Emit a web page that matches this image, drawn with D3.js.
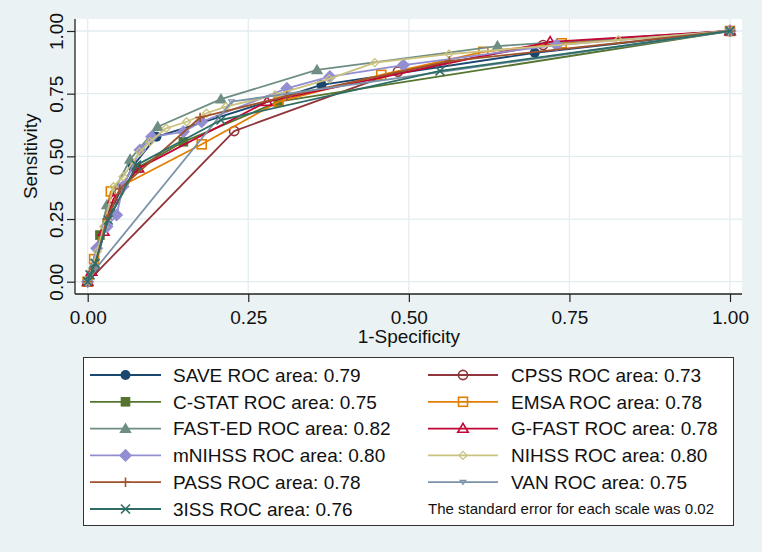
<!DOCTYPE html>
<html>
<head>
<meta charset="utf-8">
<script src="https://cdn.jsdelivr.net/npm/d3@7"></script>
<style>
  html, body { margin: 0; padding: 0; background: #eaf2f3; }
  svg { display: block; font-family: "Liberation Sans", Arial, Helvetica, sans-serif; }
</style>
</head>
<body>
<svg id="chart" width="762" height="552"></svg>
<script>
// ---- data: ROC points [1-Specificity, Sensitivity] ----
const SAVE   = [[0,0],[0.01,0.05],[0.035,0.28],[0.07,0.46],[0.107,0.578],[0.364,0.785],[0.696,0.913],[1,1]];
const CPSS   = [[0,0],[0.228,0.601],[0.483,0.838],[0.709,0.944],[1,1]];
const CSTAT  = [[0,0],[0.019,0.186],[0.076,0.452],[0.149,0.558],[0.297,0.718],[1,1]];
const EMSA   = [[0,0],[0.01,0.09],[0.036,0.36],[0.1775,0.548],[0.297,0.718],[0.457,0.825],[0.616,0.917],[0.738,0.951],[1,1]];
const FASTED = [[0,0],[0.01,0.07],[0.03,0.306],[0.066,0.488],[0.109,0.618],[0.2075,0.728],[0.357,0.845],[0.638,0.94],[1,1]];
const GFAST  = [[0,0],[0.006,0.04],[0.025,0.2],[0.04,0.33],[0.079,0.452],[0.279,0.718],[0.72,0.957],[1,1]];
const MNIHSS = [[0,0],[0.014,0.133],[0.03,0.22],[0.045,0.266],[0.055,0.38],[0.0814,0.525],[0.0996,0.578],[0.149,0.598],[0.1775,0.638],[0.31,0.771],[0.377,0.818],[0.4915,0.864],[0.73,0.944],[1,1]];
const NIHSS  = [[0,0],[0.005,0.04],[0.015,0.12],[0.025,0.22],[0.04,0.379],[0.055,0.419],[0.081,0.518],[0.097,0.558],[0.122,0.612],[0.154,0.638],[0.185,0.672],[0.215,0.698],[0.2916,0.745],[0.376,0.809],[0.447,0.874],[0.5625,0.908],[0.826,0.964],[1,1]];
const PASS   = [[0,0],[0.01,0.05],[0.03,0.25],[0.05,0.37],[0.175,0.655],[0.31,0.74],[0.563,0.88],[1,1]];
const VAN    = [[0,0],[0.012,0.05],[0.224,0.718],[1,1]];
const ISS3   = [[0,0],[0.0036,0.027],[0.0114,0.073],[0.032,0.246],[0.076,0.465],[0.2075,0.645],[0.5485,0.8405],[1,1]];

const seriesNames = ["SAVE","CPSS","C-STAT","EMSA","FAST-ED","G-FAST","mNIHSS","NIHSS","PASS","VAN","3ISS"];
const seriesData  = [SAVE, CPSS, CSTAT, EMSA, FASTED, GFAST, MNIHSS, NIHSS, PASS, VAN, ISS3];
const rocAreas    = ["0.79","0.73","0.75","0.78","0.82","0.78","0.80","0.80","0.78","0.75","0.76"];
const seriesColors = ["#1a476f","#90353b","#55752f","#e37e00","#6e8e84","#c10534","#938dd2","#cac27e","#a0522d","#7b92a8","#2d6d66"];
const seriesMarkers = ["O","Oh","S","Sh","T","Th","D","Dh","plus","v","X"];
const tickValues = [0, 0.25, 0.5, 0.75, 1];
const xTitle = "1-Specificity";
const yTitle = "Sensitivity";
const note = "The standard error for each scale was 0.02";

// ---- layout ----
const svg = d3.select("#chart");
const W = 762, H = 552;
const plot = {left: 75, right: 742, top: 19, bottom: 294};
const x = d3.scaleLinear().domain([0, 1]).range([87.7, 730]);
const y = d3.scaleLinear().domain([0, 1]).range([281.7, 31]);

svg.append("rect").attr("width", W).attr("height", H).attr("fill", "#eaf2f3");
svg.append("rect").attr("x", plot.left).attr("y", plot.top)
  .attr("width", plot.right - plot.left).attr("height", plot.bottom - plot.top)
  .attr("fill", "#ffffff");

// grid
const grid = svg.append("g");
grid.selectAll("line.gx").data(tickValues).join("line")
  .attr("x1", d => x(d)).attr("x2", d => x(d))
  .attr("y1", plot.top).attr("y2", plot.bottom)
  .attr("stroke", "#e3edf0").attr("stroke-width", 1.3);
grid.selectAll("line.gy").data(tickValues).join("line")
  .attr("y1", d => y(d)).attr("y2", d => y(d))
  .attr("x1", plot.left).attr("x2", plot.right)
  .attr("stroke", "#e3edf0").attr("stroke-width", 1.3);

// axes
const fmt = d3.format(".2f");
const xAxis = svg.append("g").attr("transform", `translate(0,${plot.bottom})`)
  .call(d3.axisBottom(x).tickValues(tickValues).tickFormat(fmt).tickSize(8).tickSizeOuter(0));
xAxis.select(".domain").remove();
xAxis.selectAll(".tick line").attr("stroke", "#222").attr("stroke-width", 1.2);
xAxis.selectAll(".tick text").attr("y", 30).attr("dy", 0)
  .attr("font-size", 19).attr("fill", "#111").attr("font-family", "Liberation Sans, Arial, sans-serif");

const yAxis = svg.append("g").attr("transform", `translate(${plot.left},0)`)
  .call(d3.axisLeft(y).tickValues(tickValues).tickFormat(fmt).tickSize(8).tickSizeOuter(0));
yAxis.select(".domain").remove();
yAxis.selectAll(".tick line").attr("stroke", "#222").attr("stroke-width", 1.2);
yAxis.selectAll(".tick text")
  .attr("transform", "rotate(-90)")
  .attr("x", 0).attr("y", -12).attr("dy", 0)
  .attr("text-anchor", "middle")
  .attr("font-size", 19).attr("fill", "#111").attr("font-family", "Liberation Sans, Arial, sans-serif");

svg.append("line").attr("x1", plot.left).attr("x2", plot.left)
  .attr("y1", plot.top).attr("y2", plot.bottom).attr("stroke", "#222").attr("stroke-width", 1.3);
svg.append("line").attr("x1", plot.left).attr("x2", plot.right)
  .attr("y1", plot.bottom).attr("y2", plot.bottom).attr("stroke", "#222").attr("stroke-width", 1.3);

svg.append("text").attr("x", x(0.5)).attr("y", 343).attr("text-anchor", "middle")
  .attr("font-size", 19).attr("fill", "#111").text(xTitle);
svg.append("text").attr("transform", `translate(37,${y(0.5)}) rotate(-90)`)
  .attr("text-anchor", "middle").attr("font-size", 19).attr("fill", "#111").text(yTitle);

// marker drawing
function drawMarker(g, type, color, cx, cy) {
  const sw = 1.6;
  switch (type) {
    case "O":
      g.append("circle").attr("cx", cx).attr("cy", cy).attr("r", 5).attr("fill", color); break;
    case "Oh":
      g.append("circle").attr("cx", cx).attr("cy", cy).attr("r", 4.6).attr("fill", "none")
        .attr("stroke", color).attr("stroke-width", sw); break;
    case "S":
      g.append("rect").attr("x", cx - 4.8).attr("y", cy - 4.8).attr("width", 9.6).attr("height", 9.6).attr("fill", color); break;
    case "Sh":
      g.append("rect").attr("x", cx - 4.5).attr("y", cy - 4.5).attr("width", 9).attr("height", 9)
        .attr("fill", "none").attr("stroke", color).attr("stroke-width", sw); break;
    case "T": {
      const s = 6.2;
      g.append("path").attr("d", `M${cx},${cy - s}L${cx + s},${cy + s * 0.7}L${cx - s},${cy + s * 0.7}Z`).attr("fill", color); break;
    }
    case "Th": {
      const s = 5.2;
      g.append("path").attr("d", `M${cx},${cy - s}L${cx + s},${cy + s * 0.7}L${cx - s},${cy + s * 0.7}Z`)
        .attr("fill", "none").attr("stroke", color).attr("stroke-width", sw); break;
    }
    case "D": {
      const s = 6.6;
      g.append("path").attr("d", `M${cx},${cy - s}L${cx + s},${cy}L${cx},${cy + s}L${cx - s},${cy}Z`).attr("fill", color); break;
    }
    case "Dh": {
      const s = 4;
      g.append("path").attr("d", `M${cx},${cy - s}L${cx + s},${cy}L${cx},${cy + s}L${cx - s},${cy}Z`)
        .attr("fill", "none").attr("stroke", color).attr("stroke-width", 1.3); break;
    }
    case "plus": {
      const s = 4.8;
      g.append("path").attr("d", `M${cx - s},${cy}L${cx + s},${cy}M${cx},${cy - s}L${cx},${cy + s}`)
        .attr("stroke", color).attr("stroke-width", sw).attr("fill", "none"); break;
    }
    case "v": {
      const s = 3;
      g.append("path").attr("d", `M${cx - s},${cy - s * 0.6}L${cx + s},${cy - s * 0.6}L${cx},${cy + s * 0.8}Z`)
        .attr("stroke", color).attr("stroke-width", 1.1).attr("fill", "none"); break;
    }
    case "X": {
      const s = 4.5;
      g.append("path").attr("d", `M${cx - s},${cy - s}L${cx + s},${cy + s}M${cx - s},${cy + s}L${cx + s},${cy - s}`)
        .attr("stroke", color).attr("stroke-width", sw).attr("fill", "none"); break;
    }
  }
}

// series
const line = d3.line().x(d => x(d[0])).y(d => y(d[1]));
const series = svg.append("g");
seriesData.forEach((data, i) => {
  const g = series.append("g");
  g.append("path").datum(data).attr("d", line).attr("fill", "none")
    .attr("stroke", seriesColors[i]).attr("stroke-width", 1.8).attr("stroke-linejoin", "round");
  data.forEach(d => drawMarker(g, seriesMarkers[i], seriesColors[i], x(d[0]), y(d[1])));
});

// legend
const leg = svg.append("g");
leg.append("rect").attr("x", 83.5).attr("y", 357.5).attr("width", 650).attr("height", 168)
  .attr("fill", "#ffffff").attr("stroke", "#333").attr("stroke-width", 1);
const rowY = i => 375 + i * 26.8;
const cols = [{x1: 90, x2: 161, tx: 173}, {x1: 428, x2: 498, tx: 511}];
seriesNames.forEach((name, i) => {
  const col = cols[i % 2];
  const r = Math.floor(i / 2);
  const cy = rowY(r);
  leg.append("line").attr("x1", col.x1).attr("x2", col.x2).attr("y1", cy).attr("y2", cy)
    .attr("stroke", seriesColors[i]).attr("stroke-width", 1.8);
  drawMarker(leg, seriesMarkers[i], seriesColors[i], (col.x1 + col.x2) / 2, cy);
  leg.append("text").attr("x", col.tx).attr("y", cy + 6.8).attr("font-size", 19).attr("fill", "#111")
    .text(`${name} ROC area: ${rocAreas[i]}`);
});
leg.append("text").attr("x", 428).attr("y", rowY(5) + 5).attr("font-size", 15).attr("fill", "#111").text(note);
</script>
</body>
</html>
